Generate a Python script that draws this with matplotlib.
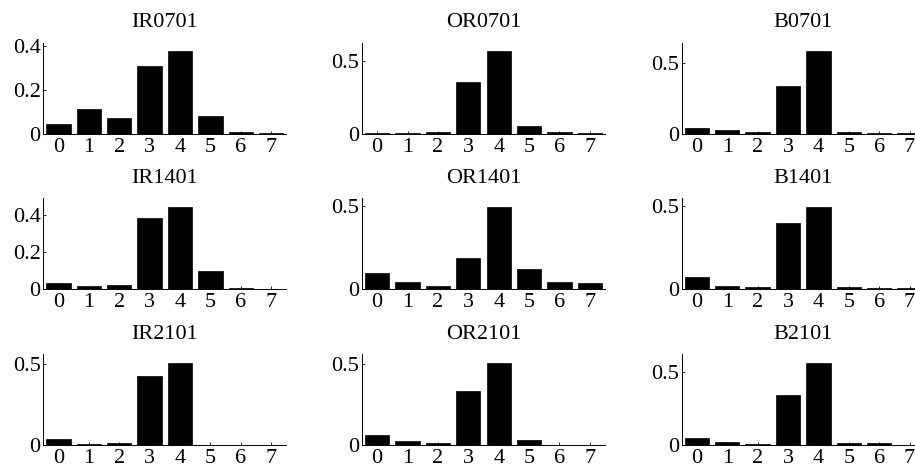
import matplotlib
matplotlib.use("Agg")
import matplotlib.pyplot as plt
import numpy as np

plt.rcParams['font.family'] = ['Liberation Serif', 'DejaVu Serif']

states = [0, 1, 2, 3, 4, 5, 6, 7]

titles = [
    "IR0701", "OR0701", "B0701",
    "IR1401", "OR1401", "B1401",
    "IR2101", "OR2101", "B2101",
]

ir0701 = [0.043, 0.111, 0.072, 0.309, 0.377, 0.080, 0.005, 0.003]
or0701 = [0.005, 0.005, 0.012, 0.358, 0.574, 0.050, 0.010, 0.005]
b0701 = [0.039, 0.025, 0.010, 0.334, 0.584, 0.010, 0.005, 0.005]
ir1401 = [0.032, 0.019, 0.023, 0.385, 0.448, 0.098, 0.006, 0.004]
or1401 = [0.095, 0.045, 0.021, 0.184, 0.494, 0.120, 0.045, 0.036]
b1401 = [0.075, 0.022, 0.012, 0.400, 0.498, 0.014, 0.006, 0.006]
ir2101 = [0.039, 0.008, 0.012, 0.422, 0.506, 0.003, 0.003, 0.003]
or2101 = [0.063, 0.029, 0.012, 0.335, 0.506, 0.033, 0.004, 0.004]
b2101 = [0.047, 0.025, 0.010, 0.339, 0.562, 0.015, 0.015, 0.004]

series = [ir0701, or0701, b0701, ir1401, or1401, b1401, ir2101, or2101, b2101]

yticks_sets = [
    [0, 0.2, 0.4], [0, 0.5], [0, 0.5],
    [0, 0.2, 0.4], [0, 0.5], [0, 0.5],
    [0, 0.5], [0, 0.5], [0, 0.5],
]
yticklabel_sets = [
    ["0", "0.2", "0.4"], ["0", "0.5"], ["0", "0.5"],
    ["0", "0.2", "0.4"], ["0", "0.5"], ["0", "0.5"],
    ["0", "0.5"], ["0", "0.5"], ["0", "0.5"],
]

W, H = 915, 472
fig = plt.figure(figsize=(W / 100, H / 100), dpi=100)

col_left = [43.3, 362.0, 681.7]
row_top = [42.5, 198.3, 354.3]
ax_w, ax_h = 243.0, 91.0

for i, (name, vals) in enumerate(zip(titles, series)):
    r, c = divmod(i, 3)
    left = col_left[c] / W
    bottom = 1 - (row_top[r] + ax_h) / H
    ax = fig.add_axes([left, bottom, ax_w / W, ax_h / H])
    ax.bar(states, vals, width=0.8, color="black", edgecolor="black", linewidth=0.5)
    ax.set_xlim(-0.5, 7.5)
    ax.set_ylim(0, max(vals) * 1.1)
    ax.set_xticks(states)
    ax.set_xticklabels([str(s) for s in states])
    ax.set_yticks(yticks_sets[i])
    ax.set_yticklabels(yticklabel_sets[i])
    for side in ("top", "right"):
        ax.spines[side].set_visible(False)
    for side in ("left", "bottom"):
        ax.spines[side].set_linewidth(0.7)
    ax.tick_params(axis="both", direction="in", length=2.5, width=0.6,
                   labelsize=16)
    ax.tick_params(axis="y", pad=2)
    ax.tick_params(axis="x", pad=3)
    ax.set_title(name, fontsize=16, pad=11)

fig.savefig("out.png", dpi=100)
